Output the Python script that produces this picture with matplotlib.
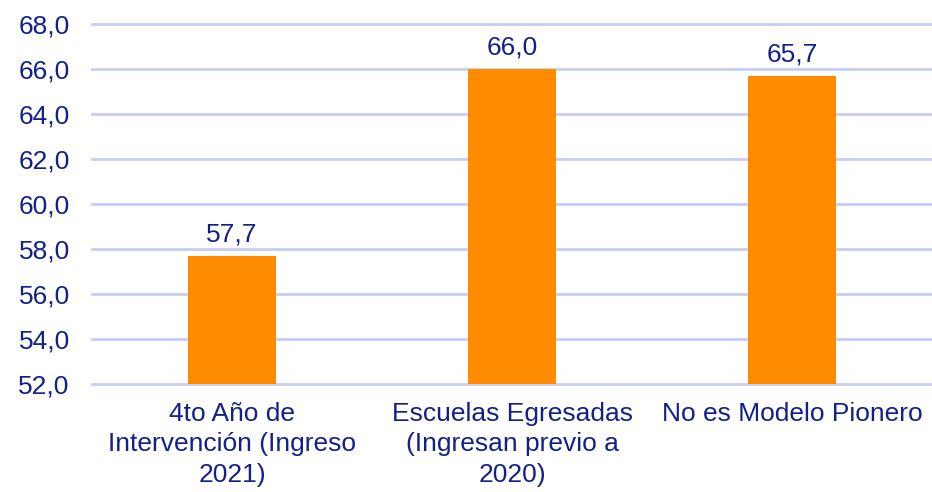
import matplotlib
matplotlib.use("Agg")
import matplotlib.pyplot as plt

categories = ["4to Año de\nIntervención (Ingreso\n2021)",
              "Escuelas Egresadas\n(Ingresan previo a\n2020)",
              "No es Modelo Pionero"]
values = [57.7, 66.0, 65.7]
yticks = [52, 54, 56, 58, 60, 62, 64, 66, 68]

text_color = "#13208a"
grid_color = "#c8cdf8"
bar_color = "#ff8c00"

plt.rcParams['font.family'] = ['Liberation Sans', 'DejaVu Sans']
fs = 19

fig = plt.figure(figsize=(9.32, 4.92), dpi=100)
ax = fig.add_axes([92/932, 1-384/492, 1-92/932, 360/492])

x = list(range(len(categories)))
bars = ax.bar(x, values, width=0.314, color=bar_color, zorder=3)
ax.set_xlim(-0.5, len(categories)-0.5)
ax.set_ylim(52, 68)
ax.set_yticks(yticks)
ax.set_yticklabels([f"{v:.1f}".replace(".", ",") for v in yticks])
ax.set_xticks(x)
ax.set_xticklabels(categories, linespacing=1.33)

for s in ax.spines.values():
    s.set_visible(False)
ax.grid(axis='y', color=grid_color, linewidth=2, zorder=0)
for gl in ax.get_ygridlines():
    gl.set_clip_on(False)
ax.tick_params(axis='y', length=0, pad=16, labelsize=fs, labelcolor=text_color)
ax.tick_params(axis='x', length=0, pad=13, labelsize=fs, labelcolor=text_color)

for xi, v in zip(x, values):
    ax.annotate(f"{v:.1f}".replace(".", ","), (xi, v), xytext=(0, 7),
                textcoords='offset points', ha='center', va='bottom',
                fontsize=fs, color=text_color)

fig.savefig("out.png", dpi=100)
